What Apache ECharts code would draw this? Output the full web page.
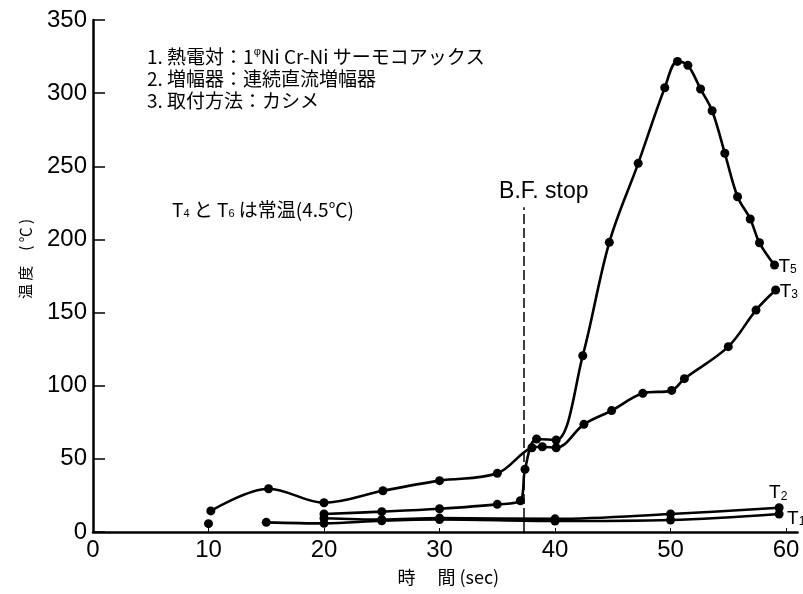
<!DOCTYPE html>
<html>
<head>
<meta charset="utf-8">
<script src="https://cdn.jsdelivr.net/npm/echarts@6/dist/echarts.min.js"></script>
<style>
html,body{margin:0;padding:0;background:#fff;}
#chart{width:803px;height:594px;}
</style>
</head>
<body>
<div id="chart"></div>
<script>
// ---- data (time in sec, temperature in °C) ----
const xTicks = [0, 10, 20, 30, 40, 50, 60];
const yTicks = [0, 50, 100, 150, 200, 250, 300, 350];

// T5 (null = gap between the lone 10 s reading and the curve)
const t5Time = [10, 15, 20, 25, 30, 35, 37.0, 37.4, 38.4, 40.1, 42.4, 44.7, 47.2, 49.5, 50.6, 51.5, 52.6, 53.6, 54.7, 55.8, 56.9, 57.7, 59.0];
const t5Temp = [5.7, null, 12.3, 13.9, 15.9, 18.9, 21.4, 42.9, 63.6, 62.9, 120.5, 198, 252, 303.7, 321.7, 319, 302.8, 288, 258.9, 229.2, 214, 197.7, 182.5];

const t3Time = [10.2, 15.2, 20, 25.1, 30, 35, 38.0, 38.9, 40.1, 42.5, 44.9, 47.6, 50.1, 51.2, 55.0, 57.4, 59.1];
const t3Temp = [14.4, 29.6, 20, 28.2, 35.1, 40.1, 57.6, 58.3, 57.6, 73.6, 83, 94.8, 96.8, 104.8, 126.7, 151.7, 165.4];

const t2Time = [20, 25, 30, 40, 50, 59.4];
const t2Temp = [9.4, 8.5, 9.5, 9.0, 12.3, 16.6];

const t1Time = [15, 20, 25, 30, 40, 50, 59.4];
const t1Temp = [6.6, 5.9, 7.7, 8.5, 7.5, 8.2, 12.3];

const bfStopTime = 37.3;
const bfStopTop = 222;

const notes = [
  '{n|1. 熱電対：1}{sup|φ}{n|Ni Cr-Ni サーモコアックス}',
  '{n|2. 増幅器：連続直流増幅器}',
  '{n|3. 取付方法：カシメ}'
];

function pairs(t, v) {
  return t.map((x, i) => v[i] == null ? [x, '-'] : [x, v[i]]);
}

const CJK = '"Noto Sans CJK JP", "Noto Sans", sans-serif';
const LAT = '"Liberation Sans", Arial, sans-serif';

const subRich = {
  n: { fontSize: 19, fontFamily: LAT, color: '#000', verticalAlign: 'bottom', lineHeight: 22 },
  s: { fontSize: 12, fontFamily: LAT, color: '#000', verticalAlign: 'bottom', lineHeight: 19 }
};

function lineSeries(name, t, v, endLab) {
  return {
    name: name,
    type: 'line',
    data: pairs(t, v),
    smooth: 0.35,
    connectNulls: false,
    symbol: 'circle',
    symbolSize: 9,
    showSymbol: true,
    itemStyle: { color: '#000' },
    lineStyle: { color: '#000', width: 2.6 },
    endLabel: endLab,
    z: 3
  };
}

const chart = echarts.init(document.getElementById('chart'), null, { renderer: 'canvas' });

const option = {
  animation: false,
  backgroundColor: '#fff',
  grid: { left: 93, right: 5.4, top: 20, bottom: 62 },
  xAxis: {
    type: 'value',
    min: 0,
    max: 61,
    interval: 10,
    name: '時　 間 (sec)',
    nameLocation: 'middle',
    nameGap: 36,
    nameTextStyle: { fontFamily: CJK, fontSize: 18, color: '#000', padding: [0, 0, 0, 6] },
    axisLine: { lineStyle: { color: '#000', width: 2.5 } },
    axisTick: { inside: true, length: 4, lineStyle: { color: '#000', width: 1 } },
    splitLine: { show: false },
    axisLabel: {
      color: '#000', fontSize: 24, fontFamily: LAT, margin: 6, showMaxLabel: false,
      formatter: v => xTicks.indexOf(v) >= 0 ? String(v) : ''
    }
  },
  yAxis: {
    type: 'value',
    min: 0,
    max: 350,
    interval: 50,
    name: '温 度　( ℃ )',
    nameLocation: 'middle',
    nameGap: 60,
    nameRotate: 90,
    nameTextStyle: { fontFamily: CJK, fontSize: 15, color: '#000', padding: [0, 0, 0, 34] },
    axisLine: { show: true, lineStyle: { color: '#000', width: 2.5 } },
    axisTick: { show: true, inside: true, length: 12, lineStyle: { color: '#000', width: 1.5 } },
    splitLine: { show: false },
    axisLabel: {
      color: '#000', fontSize: 24, fontFamily: LAT, margin: 6,
      formatter: v => yTicks.indexOf(v) >= 0 ? String(v) : ''
    }
  },
  series: [
    Object.assign(lineSeries('T5', t5Time, t5Temp, {
      show: true, formatter: '{n|T}{s|5}', distance: 4, rich: subRich
    }), {
      markLine: {
        silent: true,
        symbol: ['none', 'none'],
        lineStyle: { color: '#000', width: 1.5, type: [10, 4] },
        label: {
          show: true, position: 'end', formatter: 'B.F. stop',
          color: '#000', fontSize: 23, fontFamily: LAT, distance: 4,
          padding: [0, 0, 0, 40]
        },
        data: [[{ coord: [bfStopTime, 0] }, { coord: [bfStopTime, bfStopTop] }]]
      }
    }),
    lineSeries('T3', t3Time, t3Temp, {
      show: true, formatter: '{n|T}{s|3}', distance: 4, rich: subRich
    }),
    lineSeries('T2', t2Time, t2Temp, {
      show: true, formatter: '{n|T}{s|2}', offset: [-10, -16], distance: 0, rich: subRich
    }),
    lineSeries('T1', t1Time, t1Temp, {
      show: true, formatter: '{n|T}{s|1}', offset: [4, 3], distance: 4, rich: subRich
    })
  ],
  graphic: [
    {
      type: 'text', left: 147, top: 46,
      style: {
        text: notes.join('\n'),
        rich: {
          n: { fontSize: 19, fontFamily: CJK, color: '#000', lineHeight: 22 },
          sup: { fontSize: 11, fontFamily: LAT, color: '#000', lineHeight: 22, verticalAlign: 'top', padding: [0, 0, 6, 0] }
        }
      }
    },
    {
      type: 'text', left: 172, top: 200,
      style: {
        text: '{n|T}{s|4}{n| と T}{s|6}{n| は常温(4.5℃)}',
        rich: {
          n: { fontSize: 19, fontFamily: CJK, color: '#000', lineHeight: 26, verticalAlign: 'bottom' },
          s: { fontSize: 11, fontFamily: LAT, color: '#000', lineHeight: 21, verticalAlign: 'bottom' }
        }
      }
    }
  ]
};

chart.setOption(option);
</script>
</body>
</html>
